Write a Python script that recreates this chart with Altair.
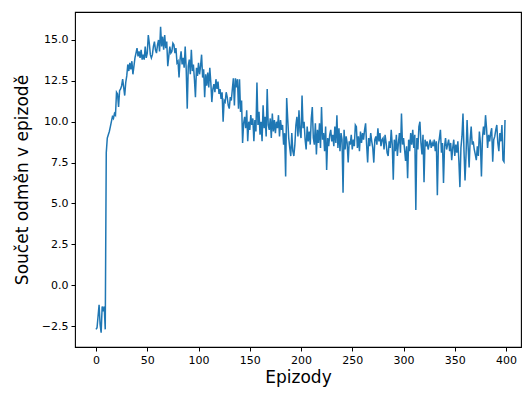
import altair as alt
import pandas as pd

rewards = [
    -2.7, -2.6, -1.9, -1.2, -2.4, -2.9, -1.3, -1.6, -1.3, -2.7,
    8.1, 9.0, 9.2, 9.4, 9.7, 10.0, 10.3, 10.2, 10.5, 10.4,
    11.8, 11.7, 10.9, 11.9, 12.0, 12.2, 12.6, 12.1, 11.6, 12.4,
    12.8, 13.5, 13.1, 13.6, 13.2, 13.7, 12.9, 13.4, 13.9, 14.2,
    14.5, 14.0, 14.3, 13.9, 14.4, 13.8, 14.1, 13.8, 14.6, 13.9,
    14.2, 15.3, 14.8, 14.1, 13.9, 14.1, 14.6, 14.9, 14.4, 14.2,
    14.7, 15.0, 14.3, 15.8, 14.6, 15.2, 14.4, 15.3, 14.5, 14.9,
    13.4, 14.0, 14.6, 14.2, 14.3, 14.8, 14.7, 14.2, 14.5, 13.6,
    13.7, 12.7, 13.8, 14.3, 13.5, 13.9, 13.3, 14.6, 13.2, 10.8,
    13.4, 13.8, 12.9, 14.4, 13.1, 13.5, 12.6, 11.5, 13.3, 12.8,
    13.6, 12.9, 13.4, 14.1, 12.7, 13.2, 11.5, 12.9, 12.2, 13.0,
    12.1, 13.3, 12.4, 11.2, 12.0, 12.3, 11.8, 12.6, 12.0, 12.45,
    11.7, 12.0, 11.4, 11.8, 10.0, 11.3, 11.2, 11.8, 11.5, 11.0,
    10.8, 11.5, 11.3, 12.0, 12.65, 11.0, 12.65, 12.1, 12.6, 10.8,
    12.6, 10.6, 11.3, 8.7, 9.9, 10.3, 9.6, 10.7, 8.8, 10.0,
    9.5, 10.4, 9.8, 10.2, 8.8, 10.1, 9.4, 12.4, 9.8, 10.6,
    9.2, 10.0, 8.8, 11.0, 9.6, 10.3, 9.1, 12.0, 9.8, 9.5,
    10.2, 9.0, 10.5, 9.4, 10.1, 9.3, 10.0, 9.6, 10.4, 9.1,
    10.1, 9.5, 9.8, 8.6, 9.3, 6.65, 11.45, 10.2, 9.0, 8.4,
    7.9, 9.3, 8.2, 7.9, 8.6, 9.8, 10.3, 9.1, 10.7, 9.4,
    9.0, 11.6, 9.6, 10.0, 8.9, 8.3, 9.7, 8.8, 9.4, 8.6,
    10.2, 10.9, 9.0, 8.6, 9.9, 8.0, 9.5, 8.7, 9.9, 8.4,
    10.9, 8.9, 9.3, 8.2, 9.7, 7.05, 9.0, 8.5, 9.2, 9.5,
    8.8, 9.2, 8.5, 9.7, 8.7, 10.4, 8.4, 9.6, 8.2, 9.3,
    8.9, 5.65, 9.5, 8.3, 9.1, 8.7, 7.5, 8.8, 8.6, 9.2,
    8.3, 8.9, 8.5, 9.8, 9.7, 8.4, 9.1, 8.2, 9.4, 8.7,
    9.3, 8.9, 9.5, 9.9, 8.6, 7.5, 9.0, 8.5, 9.3, 8.8,
    8.4, 7.5, 8.9, 9.1, 8.6, 9.6, 8.8, 9.3, 8.5, 8.9,
    9.0, 8.3, 9.2, 8.7, 8.1, 7.9, 8.8, 8.4, 9.5, 8.6,
    6.45, 8.9, 8.2, 9.2, 7.9, 8.7, 9.3, 8.1, 10.5, 8.6,
    9.0, 8.3, 7.6, 8.5, 6.55, 8.9, 8.2, 9.3, 8.6, 9.5,
    8.4, 9.2, 4.6, 9.0, 8.3, 9.7, 10.0, 8.7, 8.0, 9.2,
    6.3, 8.9, 8.5, 8.8, 8.3, 8.6, 8.9, 8.4, 8.7, 8.5,
    8.9, 8.2, 8.8, 5.5, 8.6, 9.0, 9.5, 8.1, 8.7, 6.25,
    8.5, 9.0, 8.3, 8.6, 8.9, 8.2, 8.7, 7.65, 8.4, 8.9,
    7.9, 8.6, 8.1, 8.8, 7.6, 6.0, 8.4, 9.1, 10.5, 8.2,
    6.4, 8.0, 10.1, 8.5, 7.2, 8.9, 9.7, 8.6, 8.8, 8.3,
    8.0, 7.65, 8.5, 7.9, 9.4, 8.7, 6.65, 9.0, 9.7, 9.2,
    10.4, 9.6, 8.4, 9.2, 8.8, 9.3, 9.6, 7.55, 8.9, 9.1,
    9.5, 9.8, 8.7, 8.2, 9.3, 8.8, 9.8, 7.65, 7.55, 10.1,
]
episodes = list(range(len(rewards)))
x_ticks = [0, 50, 100, 150, 200, 250, 300, 350, 400]
y_ticks = [-2.5, 0.0, 2.5, 5.0, 7.5, 10.0, 12.5, 15.0]

df = pd.DataFrame({"ep": episodes, "r": rewards})

font = "DejaVu Sans"

chart = alt.Chart(df).mark_line(color="#1f77b4", strokeWidth=1.5, clip=True).encode(
    x=alt.X("ep:Q", scale=alt.Scale(domain=[-20.5, 414.6], nice=False, zero=False),
            axis=alt.Axis(values=x_ticks, title="Epizody", grid=False, domain=False,
                          tickColor="black", tickSize=4, tickWidth=1,
                          labelFont=font, labelFontSize=11, labelColor="black", labelPadding=3,
                          titleFont=font, titleFontSize=17, titleFontWeight="normal",
                          titleColor="black", titlePadding=4)),
    y=alt.Y("r:Q", scale=alt.Scale(domain=[-3.78, 16.71], nice=False, zero=False),
            axis=alt.Axis(values=y_ticks, title="Součet odměn v epizodě", grid=False, domain=False,
                          tickColor="black", tickSize=4, tickWidth=1,
                          labelExpr="replace(format(datum.value, '.1f'), '-', '\u2212')",
                          labelFont=font, labelFontSize=11, labelColor="black", labelPadding=3,
                          titleFont=font, titleFontSize=17, titleFontWeight="normal",
                          titleColor="black", titlePadding=10)),
).properties(
    width=446, height=335,
    autosize=alt.AutoSizeParams(type="none"),
    padding={"left": 75, "top": 12, "right": 2, "bottom": 47},
    background="white",
).configure_view(stroke="black", strokeWidth=1.1)

chart.save("out.html", embed_options={"renderer": "svg", "actions": False})
